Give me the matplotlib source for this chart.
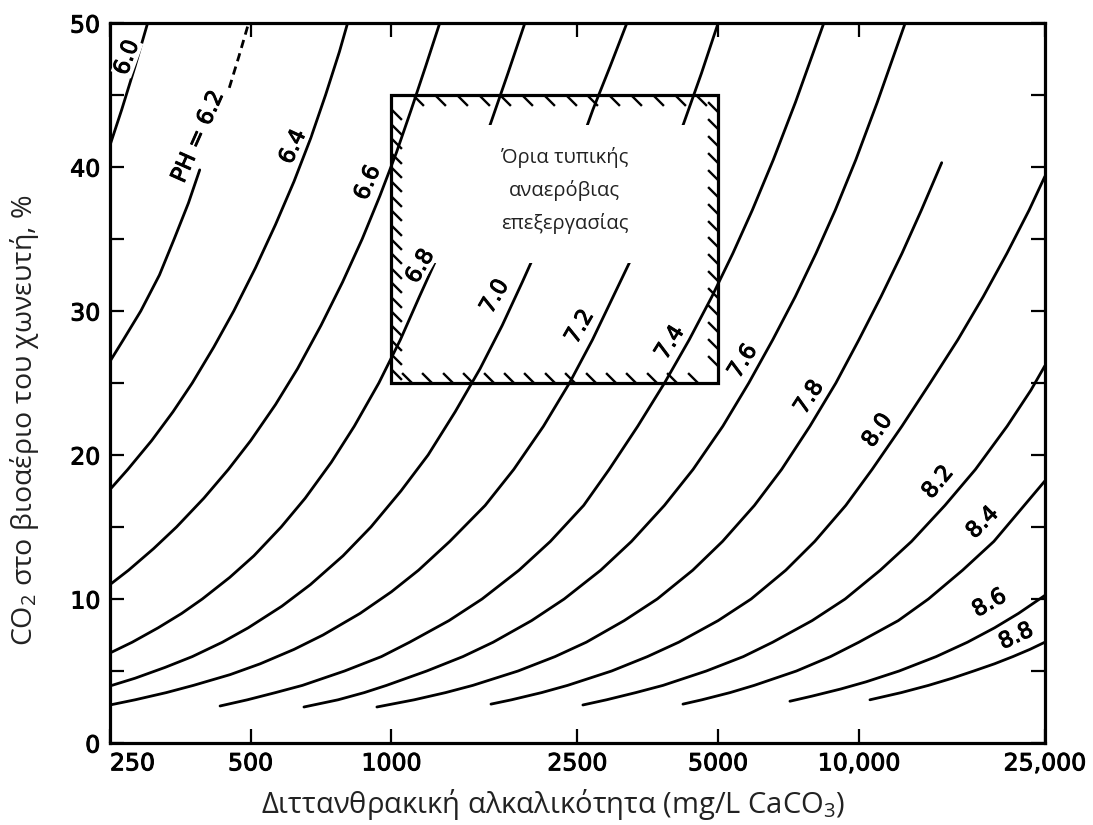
import numpy as np
import matplotlib
matplotlib.use("Agg")
import matplotlib.pyplot as plt
import matplotlib.patheffects as pe
from matplotlib.patches import Rectangle
from matplotlib.ticker import FixedLocator, NullLocator

plt.rcParams['mathtext.fontset'] = 'custom'
plt.rcParams['mathtext.rm'] = 'Open Sans'

# pH curves: alkalinity (mg/L CaCO3) vs CO2 (%)
ph60_x = [250, 265, 283, 301]
ph60_y = [41.5, 44, 47, 50]
ph62_x = [250, 267, 291, 319, 343, 368, 389]
ph62_y = [26.5, 28, 30, 32.5, 35, 37.5, 39.8]
ph62_dash_x = [450, 472, 495]
ph62_dash_y = [45.5, 47.7, 50]
ph64_x = [250, 273, 307, 341, 375, 417, 460, 512, 565, 619, 672, 723, 774, 806]
ph64_y = [17.6, 19, 21, 23, 25, 27.5, 30, 33, 36, 39, 42, 45, 48, 50]
ph66_x = [250, 274, 310, 347, 397, 448, 500, 565, 630, 707, 786, 866, 945, 1025, 1103, 1184, 1269]
ph66_y = [11, 12, 13.5, 15, 17, 19, 21, 23.5, 26, 29, 32, 35, 38, 41, 44, 47, 50]
ph68_x = [250, 279, 317, 356, 394, 451, 508, 581, 654, 744, 833, 940, 1045, 1148, 1264, 1381, 1504, 1629, 1775, 1930]
ph68_y = [6.25, 7, 8, 9, 10, 11.5, 13, 15, 17, 19.5, 22, 25, 28, 31, 34, 37, 40, 43, 46.5, 50]
ph70_x = [250, 283, 328, 375, 435, 494, 583, 671, 788, 904, 1048, 1198, 1369, 1548, 1726, 1905, 2096, 2289, 2500, 2699, 2938, 3190]
ph70_y = [3.96, 4.5, 5.25, 6, 7, 8, 9.5, 11, 13, 15, 17.5, 20, 23, 26, 29, 32, 35, 38, 41, 44, 47, 50]
ph72_x = [250, 283, 330, 377, 452, 524, 619, 714, 857, 1000, 1143, 1333, 1587, 1827, 2115, 2404, 2692, 2981, 3301, 3592, 3883, 4216, 4604, 5000]
ph72_y = [2.64, 3, 3.5, 4, 4.75, 5.5, 6.5, 7.5, 9, 10.5, 12, 14, 16.5, 19, 22, 25, 28, 31, 34, 37, 40, 43, 46.5, 50]
ph74_x = [430, 492, 565, 645, 794, 952, 1094, 1328, 1563, 1875, 2188, 2578, 2923, 3365, 3839, 4335, 4848, 5375, 5915, 6560, 7318, 8415]
ph74_y = [2.57, 3, 3.5, 4, 5, 6, 7, 8.5, 10, 12, 14, 16.5, 19, 22, 25, 28, 31, 34, 37, 40.5, 44.5, 50]
ph76_x = [650, 769, 875, 976, 1190, 1422, 1651, 1995, 2342, 2804, 3263, 3837, 4419, 5116, 5814, 6542, 7311, 8095, 8900, 9850, 10950, 12563]
ph76_y = [2.5, 3, 3.5, 4, 5, 6, 7, 8.5, 10, 12, 14, 16.5, 19, 22, 25, 28, 31, 34, 37, 40.5, 44.5, 50]
ph78_x = [931, 1119, 1306, 1493, 1866, 2239, 2612, 3148, 3704, 4412, 5109, 5978, 6835, 7857, 8929, 10000, 11151, 12364, 13603, 15037]
ph78_y = [2.5, 3, 3.5, 4, 5, 6, 7, 8.5, 10, 12, 14, 16.5, 19, 22, 25, 28, 31, 34, 37, 40.3]
ph80_x = [1633, 1807, 2096, 2381, 2959, 3529, 4118, 5000, 5882, 6977, 8046, 9375, 10674, 12360, 14205, 16279, 18452, 20732, 23125, 25000]
ph80_y = [2.7, 3, 3.5, 4, 5, 6, 7, 8.5, 10, 12, 14, 16.5, 19, 22, 25, 28, 31, 34, 37, 39.35]
ph82_x = [2568, 2885, 3333, 3810, 4717, 5660, 6542, 7944, 9346, 11111, 12963, 15278, 17757, 20755, 23333, 25000]
ph82_y = [2.64, 3, 3.5, 4, 5, 6, 7, 8.5, 10, 12, 14, 16.5, 19, 22, 24.5, 26.2]
ph84_x = [4204, 4615, 5303, 5970, 7353, 8696, 10000, 12143, 14085, 16667, 19444, 21918, 25000]
ph84_y = [2.7, 3, 3.5, 4, 5, 6, 7, 8.5, 10, 12, 14, 16, 18.2]
ph86_x = [7120, 7927, 9146, 10366, 12195, 14634, 17073, 19512, 21951, 25000]
ph86_y = [2.9, 3.25, 3.75, 4.25, 5, 6, 7, 8, 9, 10.25]
ph88_x = [10560, 12324, 14085, 15845, 17606, 19504, 21352, 23214, 25000]
ph88_y = [3, 3.5, 4, 4.5, 5, 5.5, 6, 6.5, 7]

curves = [(ph60_x, ph60_y), (ph62_x, ph62_y), (ph64_x, ph64_y), (ph66_x, ph66_y),
          (ph68_x, ph68_y), (ph70_x, ph70_y), (ph72_x, ph72_y), (ph74_x, ph74_y),
          (ph76_x, ph76_y), (ph78_x, ph78_y), (ph80_x, ph80_y), (ph82_x, ph82_y),
          (ph84_x, ph84_y), (ph86_x, ph86_y), (ph88_x, ph88_y)]

# curve labels: text, alkalinity, CO2, angle
label_text = ['6.0', 'PH = 6.2', '6.4', '6.6', '6.8', '7.0', '7.2', '7.4',
              '7.6', '7.8', '8.0', '8.2', '8.4', '8.6', '8.8']
label_x = [272, 386, 616, 890, 1153, 1665, 2530, 3945, 5650, 7830, 10970, 14770, 18400, 19030, 21700]
label_y = [47.6, 42.1, 41.4, 38.9, 33.1, 31.0, 28.9, 27.8, 26.5, 24.0, 21.7, 18.1, 15.3, 9.7, 7.4]
label_rot = [70, 66, 65, 67, 60, 60, 60, 58, 58, 57, 55, 50, 45, 30, 25]

x_ticks = [250, 500, 1000, 2500, 5000, 10000, 25000]
x_tick_labels = ['250', '500', '1000', '2500', '5000', '10,000', '25,000']
y_ticks = [0, 10, 20, 30, 40, 50]

# limits of typical anaerobic treatment
box_x = (1000, 5000)
box_y = (25, 45)

num_font = 'DejaVu Sans'
txt_color = '#222222'
heavy = [pe.withStroke(linewidth=0.7, foreground='black')]

fig = plt.figure(figsize=(10.93, 8.25), dpi=100)
ax = fig.add_axes([0.1006, 0.0994, 0.8554, 0.8727])
ax.set_xscale('log')
ax.set_xlim(250, 25000)
ax.set_ylim(0, 50)

for cx, cy in curves:
    ax.plot(cx, cy, color='black', lw=2.0, solid_capstyle='round', zorder=2)
ax.plot(ph62_dash_x, ph62_dash_y, color='black', lw=2.0, linestyle=(0, (3, 2)), zorder=2)

# white patch where the Greek note was pasted over the curves
ax.add_patch(Rectangle((1150, 33.3), 4700 - 1150, 42.9 - 33.3, facecolor='white',
                       edgecolor='none', zorder=3))
ax.add_patch(Rectangle((box_x[0], box_y[0]), box_x[1] - box_x[0], box_y[1] - box_y[0],
                       facecolor='none', edgecolor='black', lw=2.3, zorder=4))

# hatch strokes on the inside of the box
mk_start = [(0, 0), (1, -1)]
mk_end = [(-1, 1), (0, 0)]
hx_top = np.geomspace(box_x[0], box_x[1], 16)[1:-1]
hx_bot = np.geomspace(box_x[0], box_x[1], 17)[1:-1]
hy_left = np.linspace(box_y[0], box_y[1], 21)[1:-1]
hy_right = np.linspace(box_y[0], box_y[1], 18)[1:-1]
kw = dict(linestyle='none', markersize=15, markeredgewidth=1.7, color='black',
          markerfacecolor='none', zorder=4)
ax.plot(hx_top, np.full(len(hx_top), box_y[1]), marker=mk_start, **kw)
ax.plot(np.full(len(hy_left), box_x[0]), hy_left, marker=mk_start, **kw)
ax.plot(hx_bot, np.full(len(hx_bot), box_y[0]), marker=mk_end, **kw)
ax.plot(np.full(len(hy_right), box_x[1]), hy_right, marker=mk_end, **kw)

ax.text(2350, 38.4, 'Όρια τυπικής\nαναερόβιας\nεπεξεργασίας', family='Open Sans',
        fontsize=14.5, color=txt_color, ha='center', va='center', linespacing=1.75, zorder=5)

for t, lx, ly, rot in zip(label_text, label_x, label_y, label_rot):
    ax.text(lx, ly, t, family=num_font, fontsize=16, rotation=rot, rotation_mode='anchor',
            ha='center', va='center', zorder=5, path_effects=heavy,
            bbox=dict(facecolor='white', edgecolor='none', pad=0.5))

ax.xaxis.set_major_locator(FixedLocator(x_ticks))
ax.xaxis.set_minor_locator(NullLocator())
ax.set_xticklabels(x_tick_labels)
ax.set_yticks(y_ticks)
ax.yaxis.set_minor_locator(FixedLocator([5, 15, 25, 35, 45]))
ax.tick_params(axis='both', which='both', direction='in', top=True, right=True,
               length=10, width=1.6, labelsize=17)
ax.tick_params(axis='x', pad=6)
ax.tick_params(axis='y', pad=7)
for lab in ax.get_xticklabels() + ax.get_yticklabels():
    lab.set_family(num_font)
    lab.set_path_effects(heavy)
ax.get_xticklabels()[0].set_ha('left')
for sp in ax.spines.values():
    sp.set_linewidth(2.3)

ax.set_xlabel('Διττανθρακική αλκαλικότητα (mg/L CaCO$_{\\mathrm{3}}$)', family='Open Sans',
              fontsize=21, color=txt_color, va='center')
ax.xaxis.set_label_coords(0.474, -0.086)
ax.set_ylabel('CO$_{\\mathrm{2}}$ στο βιοαέριο του χωνευτή, %', family='Open Sans',
              fontsize=20.5, color=txt_color, va='center')
ax.yaxis.set_label_coords(-0.091, 0.449)

fig.savefig('out.png', dpi=100)
